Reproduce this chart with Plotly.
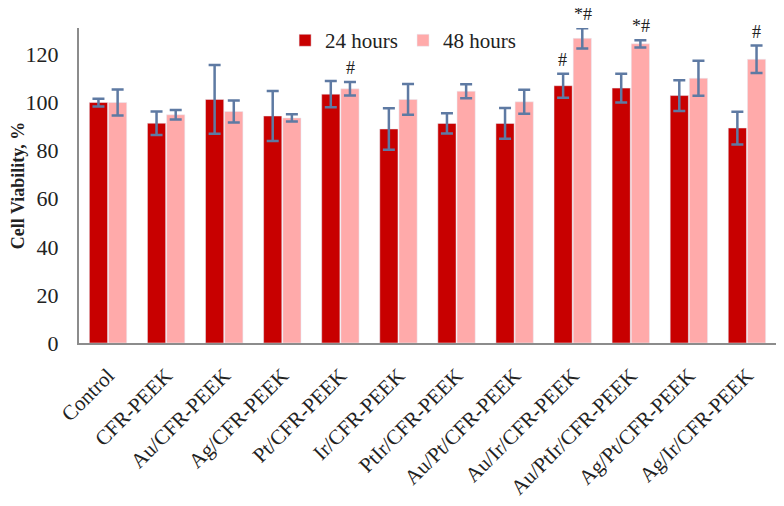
import plotly.graph_objects as go

groups = ['Control', 'CFR-PEEK', 'Au/CFR-PEEK', 'Ag/CFR-PEEK', 'Pt/CFR-PEEK', 'Ir/CFR-PEEK',
          'PtIr/CFR-PEEK', 'Au/Pt/CFR-PEEK', 'Au/Ir/CFR-PEEK', 'Au/PtIr/CFR-PEEK',
          'Ag/Pt/CFR-PEEK', 'Ag/Ir/CFR-PEEK']

h24 = [100, 91.4, 101.3, 94.4, 103.5, 89.0, 91.3, 91.3, 107.0, 106.0, 102.9, 89.4]
h24_err = [1.6, 4.9, 14.3, 10.4, 5.5, 8.6, 4.2, 6.4, 5.0, 6.0, 6.4, 6.8]
h48 = [100, 94.9, 96.3, 93.6, 105.7, 101.3, 104.7, 100.3, 126.7, 124.4, 110.1, 118.0]
h48_err = [5.4, 2.0, 4.6, 1.5, 2.8, 6.4, 2.9, 5.0, 4.2, 1.5, 7.3, 5.7]

# significance marks: (group index, series, text)
marks = [(4, '48', '#'), (8, '24', '#'), (8, '48', '*#'), (9, '48', '*#'), (11, '48', '#')]

serif = 'Liberation Serif'
err_style = dict(type='data', thickness=2.5, width=6, color='#5E7AA3')

fig = go.Figure()
fig.add_trace(go.Bar(x=groups, y=h24, name='24 hours', marker_color='#C80000',
                     error_y=dict(array=h24_err, **err_style)))
fig.add_trace(go.Bar(x=groups, y=h48, name='48 hours', marker_color='#FFAAAA',
                     error_y=dict(array=h48_err, **err_style)))

for i, s, txt in marks:
    if s == '24':
        top, shift = h24[i] + h24_err[i], -10
    else:
        top, shift = h48[i] + h48_err[i], 10
    fig.add_annotation(x=groups[i], y=top, text=txt, showarrow=False, xshift=shift,
                       yanchor='bottom', yshift=2, font=dict(family=serif, size=18, color='#222'))

fig.update_layout(
    width=784, height=506,
    margin=dict(l=71, r=16, t=20, b=171, autoexpand=False),
    plot_bgcolor='white', paper_bgcolor='white',
    barmode='group', bargap=0.34, bargroupgap=0.05,
    font=dict(family=serif, size=20, color='#222'),
    legend=dict(orientation='h', x=0.465, xanchor='center', y=1.025, yanchor='top',
                font=dict(family=serif, size=21, color='#222'), itemwidth=30,
                bgcolor='rgba(0,0,0,0)'),
)
fig.update_xaxes(showline=True, linecolor='#8C8C8C', linewidth=2, ticks='',
                 tickangle=-45, tickfont=dict(family=serif, size=21), ticklabelstandoff=10)
fig.update_yaxes(range=[0, 131], dtick=20, showgrid=False, showline=True,
                 linecolor='#8C8C8C', linewidth=2, ticks='', zeroline=False,
                 tickfont=dict(family=serif, size=22), ticklabelstandoff=14,
                 title=dict(text='<b>Cell Viability, %</b>', font=dict(family=serif, size=18), standoff=4))

fig.write_html('out.html')
